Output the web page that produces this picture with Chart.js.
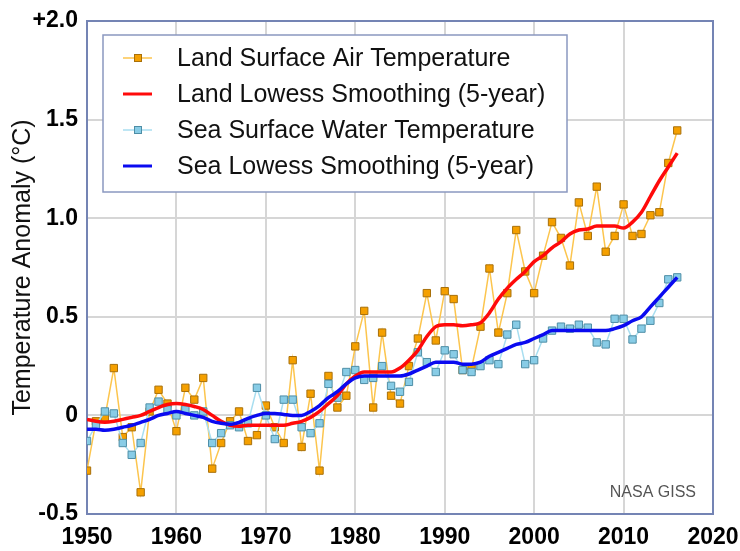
<!DOCTYPE html>
<html>
<head>
<meta charset="utf-8">
<script src="https://cdn.jsdelivr.net/npm/chart.js@4.4.1/dist/chart.umd.min.js"></script>
<style>
  html, body { margin: 0; padding: 0; background: #ffffff; }
  canvas { display: block; }
</style>
</head>
<body>
<canvas id="c" width="740" height="551"></canvas>
<script>
// ---- Data ----
const years = [1950,1951,1952,1953,1954,1955,1956,1957,1958,1959,
               1960,1961,1962,1963,1964,1965,1966,1967,1968,1969,
               1970,1971,1972,1973,1974,1975,1976,1977,1978,1979,
               1980,1981,1982,1983,1984,1985,1986,1987,1988,1989,
               1990,1991,1992,1993,1994,1995,1996,1997,1998,1999,
               2000,2001,2002,2003,2004,2005,2006,2007,2008,2009,
               2010,2011,2012,2013,2014,2015,2016];

const landAnnual = [-0.28,-0.03,-0.01,0.24,-0.11,-0.06,-0.39,0.02,0.13,0.06,
                    -0.08,0.14,0.08,0.19,-0.27,-0.14,-0.03,0.02,-0.13,-0.10,
                    0.05,-0.06,-0.14,0.28,-0.16,0.11,-0.28,0.20,0.04,0.10,
                    0.35,0.53,0.04,0.42,0.10,0.06,0.25,0.39,0.62,0.38,
                    0.63,0.59,0.23,0.24,0.45,0.745,0.42,0.62,0.94,0.73,
                    0.62,0.81,0.98,0.90,0.76,1.08,0.91,1.16,0.83,0.91,
                    1.07,0.91,0.92,1.015,1.03,1.28,1.445];

const landSmooth = [-0.02,-0.03,-0.035,-0.03,-0.02,-0.01,0.00,0.02,0.04,0.055,
                    0.06,0.055,0.045,0.03,0.00,-0.03,-0.05,-0.055,-0.05,-0.05,
                    -0.05,-0.05,-0.05,-0.04,-0.03,-0.01,0.02,0.06,0.10,0.16,
                    0.20,0.22,0.22,0.22,0.22,0.24,0.28,0.33,0.40,0.45,
                    0.46,0.46,0.455,0.46,0.47,0.52,0.59,0.645,0.69,0.73,
                    0.78,0.81,0.85,0.88,0.92,0.94,0.945,0.96,0.96,0.96,
                    0.95,0.98,1.03,1.11,1.19,1.26,1.33];

const seaAnnual = [-0.13,-0.05,0.02,0.01,-0.14,-0.20,-0.14,0.04,0.07,0.03,
                   0.00,0.03,0.00,0.02,-0.14,-0.09,-0.05,-0.06,-0.04,0.14,
                   0.00,-0.12,0.08,0.08,-0.06,-0.09,-0.04,0.16,0.09,0.22,
                   0.23,0.18,0.19,0.25,0.15,0.12,0.17,0.32,0.27,0.22,
                   0.33,0.31,0.23,0.22,0.25,0.28,0.26,0.41,0.46,0.26,
                   0.28,0.39,0.43,0.45,0.44,0.46,0.445,0.37,0.36,0.49,
                   0.49,0.385,0.44,0.48,0.57,0.69,0.70];

const seaSmooth = [-0.07,-0.07,-0.075,-0.07,-0.06,-0.05,-0.035,-0.02,0.00,0.01,
                   0.02,0.01,0.00,-0.01,-0.03,-0.04,-0.045,-0.035,-0.015,0.00,
                   0.01,0.01,0.005,0.00,0.00,0.02,0.05,0.09,0.12,0.16,
                   0.19,0.20,0.20,0.20,0.20,0.20,0.21,0.23,0.25,0.27,
                   0.27,0.27,0.26,0.26,0.27,0.30,0.32,0.34,0.36,0.37,
                   0.39,0.41,0.43,0.43,0.43,0.43,0.43,0.43,0.43,0.44,
                   0.455,0.48,0.50,0.55,0.60,0.65,0.70];

const seriesLabels = ['Land Surface Air Temperature',
                      'Land Lowess Smoothing (5-year)',
                      'Sea Surface Water Temperature',
                      'Sea Lowess Smoothing (5-year)'];

const yTickValues = [-0.5, 0, 0.5, 1.0, 1.5, 2.0];
const yTickLabels = ['-0.5', '0', '0.5', '1.0', '1.5', '+2.0'];
const xTickLabels = ['1950','1960','1970','1980','1990','2000','2010','2020'];
const yAxisTitle = 'Temperature Anomaly (°C)';
const creditText = 'NASA GISS';

// ---- Build chart ----
const toXY = arr => years.map((yr, i) => ({x: yr, y: arr[i]}));
const TICK_FONT = {family: "'Liberation Sans', Arial, sans-serif", size: 23, weight: 'bold'};
const FRAME = '#7484b4';

const framePlugin = {
  id: 'frame',
  beforeDatasetsDraw(chart) {
    const {ctx, chartArea: a} = chart;
    ctx.save();
    ctx.strokeStyle = FRAME;
    ctx.lineWidth = 2;
    ctx.strokeRect(a.left, a.top, a.right - a.left, a.bottom - a.top);
    ctx.restore();
  }
};

const legendPlugin = {
  id: 'boxLegend',
  afterDatasetsDraw(chart) {
    const {ctx} = chart;
    const x0 = 103, y0 = 35, w = 464, h = 157;
    ctx.save();
    ctx.fillStyle = '#ffffff';
    ctx.fillRect(x0, y0, w, h);
    ctx.strokeStyle = '#8a98c0';
    ctx.lineWidth = 1.5;
    ctx.strokeRect(x0, y0, w, h);
    const rows = [58, 94, 130, 166];
    chart.data.datasets.forEach((ds, i) => {
      const y = rows[i];
      ctx.strokeStyle = ds.borderColor;
      ctx.lineWidth = ds.pointRadius > 0 ? 1.5 : 3;
      ctx.beginPath();
      ctx.moveTo(123, y);
      ctx.lineTo(152, y);
      ctx.stroke();
      if (ds.pointRadius > 0) {
        ctx.fillStyle = ds.pointBackgroundColor;
        ctx.strokeStyle = ds.pointBorderColor;
        ctx.lineWidth = 1;
        ctx.fillRect(134.5, y - 3.5, 7, 7);
        ctx.strokeRect(134.5, y - 3.5, 7, 7);
      }
      ctx.fillStyle = '#111111';
      ctx.font = "25px 'Liberation Sans', Arial, sans-serif";
      ctx.textBaseline = 'middle';
      ctx.textAlign = 'left';
      ctx.fillText(ds.label, 177, y + 1);
    });
    // credit
    ctx.fillStyle = '#555555';
    ctx.font = "16px 'Liberation Sans', Arial, sans-serif";
    ctx.textAlign = 'right';
    ctx.textBaseline = 'middle';
    ctx.fillText(creditText, 696, 493);
    ctx.restore();
  }
};

new Chart(document.getElementById('c'), {
  type: 'line',
  data: {
    datasets: [
      {
        label: seriesLabels[0], data: toXY(landAnnual),
        borderColor: '#fcc54e', borderWidth: 1.5, tension: 0,
        pointStyle: 'rect', pointRadius: 5.2, pointBorderWidth: 1,
        pointBackgroundColor: '#f5a000', pointBorderColor: '#a8700a', order: 4
      },
      {
        label: seriesLabels[1], data: toXY(landSmooth),
        borderColor: '#ff0a0a', borderWidth: 3.5, pointRadius: 0,
        cubicInterpolationMode: 'monotone', order: 2
      },
      {
        label: seriesLabels[2], data: toXY(seaAnnual),
        borderColor: '#a8def0', borderWidth: 1.5, tension: 0,
        pointStyle: 'rect', pointRadius: 5.2, pointBorderWidth: 1,
        pointBackgroundColor: '#88cce6', pointBorderColor: '#4e8ea6', order: 3
      },
      {
        label: seriesLabels[3], data: toXY(seaSmooth),
        borderColor: '#0a0af0', borderWidth: 3.5, pointRadius: 0,
        cubicInterpolationMode: 'monotone', order: 1
      }
    ]
  },
  options: {
    responsive: false,
    animation: false,
    devicePixelRatio: 1,
    layout: { padding: { left: 0, right: 27, top: 21, bottom: 0 } },
    plugins: { legend: { display: false }, tooltip: { enabled: false } },
    scales: {
      x: {
        type: 'linear', min: 1950, max: 2020,
        afterBuildTicks: s => { s.ticks = xTickLabels.map(t => ({value: Number(t)})); },
        ticks: { callback: (v, i) => xTickLabels[i], font: TICK_FONT, color: '#000', padding: 10, maxRotation: 0, autoSkip: false },
        grid: { color: '#d6d6d6', lineWidth: 2, drawTicks: false },
        border: { display: false },
        afterFit: s => { s.height = 37; s.paddingRight = 26; s.paddingLeft = 0; }
      },
      y: {
        min: -0.5, max: 2.0,
        afterBuildTicks: s => { s.ticks = yTickValues.map(v => ({value: v})); },
        ticks: { callback: (v, i) => yTickLabels[i], font: TICK_FONT, color: '#000', padding: 9, autoSkip: false },
        grid: { color: '#d6d6d6', lineWidth: 2, drawTicks: false },
        border: { display: false },
        title: { display: true, text: yAxisTitle, color: '#111',
                 font: {family: "'Liberation Sans', Arial, sans-serif", size: 25},
                 padding: { top: 8, bottom: 0 } },
        afterFit: s => { s.width = 87; s.paddingTop = 0; s.paddingBottom = 0; }
      }
    }
  },
  plugins: [framePlugin, legendPlugin]
});
</script>
</body>
</html>
